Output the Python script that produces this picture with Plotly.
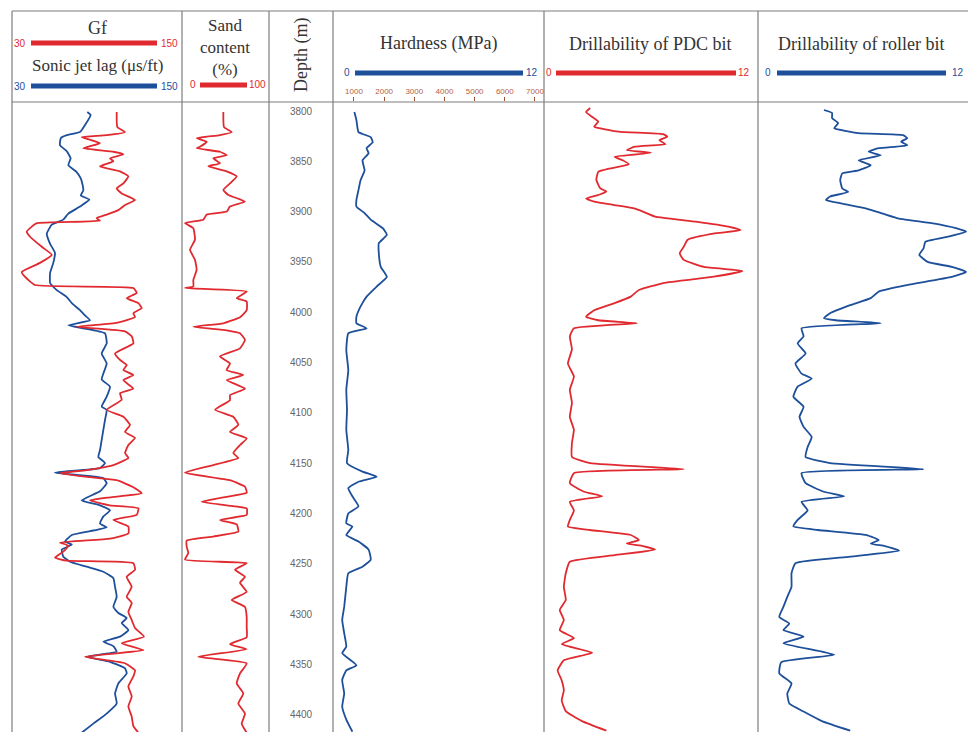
import plotly.graph_objects as go

# ---------------- data (depth in m, values per track) ----------------
gf_depth = [3800, 3815, 3820, 3823, 3825, 3827, 3831, 3836, 3839.5, 3842, 3846, 3849, 3854, 3859, 3864, 3871, 3876, 3881,
            3887.5, 3892.5, 3897.5, 3902, 3905.5, 3908, 3910.5, 3914, 3919, 3924, 3934, 3942, 3950, 3959, 3964, 3972,
            3975, 3980, 3985, 3990, 3995, 4000, 4004, 4009.5, 4013.5, 4018, 4023, 4030, 4040, 4046.5, 4051.5, 4056.5,
            4061.5, 4066.5, 4075, 4079.5, 4086, 4096, 4103, 4111, 4118, 4124, 4131, 4139, 4144, 4151, 4156, 4159, 4163,
            4166, 4173, 4179, 4183, 4186, 4191, 4194, 4200.5, 4205.5, 4212, 4219, 4224, 4228, 4231, 4237, 4243, 4246,
            4248.5, 4255, 4262, 4272, 4282, 4288, 4297, 4305, 4313, 4321.5, 4328, 4335, 4341.5, 4348, 4355, 4361, 4371,
            4381, 4391, 4401, 4410.5, 4417]
gf_value = [106.9, 107.4, 113.4, 99.1, 79.6, 84.8, 93.9, 80.9, 104.3, 112.1, 101.7, 104.3, 93.9, 109.5, 116, 112.1, 106.9, 110.8,
            121.2, 113.4, 108.2, 99.1, 91.3, 93.9, 44.6, 40.7, 36.8, 39.4, 48.5, 56.3, 47.1, 32.9, 35.5, 43.3,
            119.9, 122.5, 114.7, 123.8, 126.4, 119.9, 121.2, 106.9, 75.7, 113.4, 118.6, 119.9, 105.6, 109.5, 114.7, 112.1,
            119.9, 112.1, 119.9, 109.5, 110.8, 99.1, 112.1, 117.3, 113.4, 121.2, 116, 113.4, 116, 104.3, 83.5, 62.7, 86.1,
            106.9, 119.9, 126.4, 101.7, 86.1, 101.7, 123.8, 122.5, 104.3, 116, 116, 101.7, 62.7, 69.2, 65.3, 58.8, 68,
            119.9, 121.2, 114.7, 118.6, 114.7, 118.6, 116, 118.6, 121.2, 128.2, 110.8, 127.7, 82.2, 113.4, 121.2, 119.9, 116,
            118.6, 116, 118.6, 119.9, 123.8]

sonic_depth = [3800, 3803, 3813, 3820, 3823, 3826, 3833, 3839, 3846, 3853, 3859, 3866, 3873, 3878, 3883, 3887, 3894, 3901,
               3907, 3912, 3921, 3931, 3940, 3950, 3960, 3970, 3977, 3984, 3990, 3997, 4002, 4007, 4012, 4015, 4020, 4030,
               4040, 4050, 4060, 4066, 4073, 4083, 4093, 4096, 4106, 4116, 4126, 4136, 4143, 4149, 4154, 4158.5, 4164,
               4169, 4177, 4186, 4191, 4196, 4202, 4209, 4213, 4216, 4220.5, 4227, 4230, 4235, 4242, 4247, 4252, 4257,
               4263.5, 4272, 4282, 4292, 4298, 4303, 4308, 4315, 4321.5, 4326.5, 4331, 4336.5, 4341.5, 4346.5, 4353,
               4358, 4368, 4378, 4388, 4398, 4408, 4417]
sonic_value = [84.0, 86.6, 82.2, 78.3, 68, 63.3, 62.7, 68, 71, 69.2, 75.2, 78.9, 80.4, 80.9, 78.9, 85.6, 78.3, 69.2,
               65.3, 56.3, 52.4, 55, 58.8, 57.5, 55, 55, 60.2, 68, 71.9, 78.3, 82, 86.1, 69.2, 80.9, 97.8, 99.1,
               95.2, 99.1, 96.5, 95.2, 101.7, 99.1, 95.2, 99.1, 97.8, 96.5, 95.2, 93.9, 92.6, 97.8, 93.9, 58.8, 96.5,
               99.1, 93.9, 79.6, 93.9, 101.7, 96.5, 93.9, 99.1, 88.7, 71.9, 66.6, 71.9, 64.1, 65.3, 70.5, 83.5, 96.5,
               104.3, 105.6, 106.9, 104.3, 108.2, 114.7, 110.8, 116, 109.5, 96.5, 104.3, 106.9, 83.5, 101.7, 113.4,
               114.7, 108.2, 105.6, 106.9, 99.1, 88.7, 79.6]

sand_depth = [3800, 3815, 3820, 3823, 3826, 3829.5, 3834.5, 3836, 3839.5, 3843, 3846, 3851, 3854, 3859, 3864, 3871, 3877.5,
              3882.5, 3889, 3894, 3899, 3902, 3907, 3910.5, 3915.5, 3927, 3937, 3947, 3957, 3967, 3973.5, 3975, 3978.5,
              3985, 3988.5, 3997, 4004, 4010, 4013.5, 4017, 4020, 4026.5, 4035, 4043, 4050, 4056.5, 4061.5, 4066.5, 4075,
              4081.5, 4086.5, 4096, 4103, 4111, 4118, 4124.5, 4131, 4139, 4144, 4151, 4158.5, 4166, 4172.5, 4178.5,
              4182.5, 4187.5, 4191, 4194, 4200.5, 4205.5, 4210, 4217, 4222, 4226, 4232, 4238.5, 4245, 4248.5, 4255, 4262,
              4268, 4277, 4285, 4292, 4302, 4312, 4322, 4329, 4334, 4341.5, 4348, 4358, 4368, 4378, 4388, 4398, 4408, 4417]
sand_value = [59, 60, 71.8, 53.8, 18, 33.4, 23, 18, 53.8, 64.1, 43.6, 53.8, 35.9, 64.1, 79.5, 69.2, 59,
              66.7, 92.3, 69.2, 64.1, 33.4, 28.2, 0, 12.8, 15.4, 7.7, 15.4, 17.9, 12.8, 12.8, 0, 94.9,
              79.5, 94.9, 94.9, 84.6, 59, 12.8, 64.1, 84.6, 92.3, 84.6, 53.8, 69.2, 64.1, 89.7, 64.1, 92.3,
              69.2, 69.2, 46.2, 74.3, 82, 69.2, 94.9, 84.6, 74.3, 82, 43.6, 0, 69.2, 92.3, 94.9,
              64.1, 25.6, 64.1, 94.9, 94.9, 53.8, 79.5, 82, 43.6, 2.6, 2.6, 5.1, 0, 94.9, 76.9, 92.3,
              84.6, 94.9, 71.8, 92.3, 94.9, 94.9, 94.9, 69.2, 94.9, 20.5, 94.9, 84.6, 79.5, 89.7, 82, 92.3, 87.2, 94.9]

hard_depth = [3800, 3808, 3820, 3825, 3830, 3836, 3841, 3848, 3858, 3868, 3877.5, 3887.5, 3894, 3900.5, 3907, 3915.5, 3922,
              3930.5, 3940.5, 3954, 3964, 3973.5, 3983.5, 3993.5, 4003.5, 4010, 4015, 4020, 4036.5, 4056.5, 4076, 4096,
              4116, 4136, 4149, 4157.5, 4162.5, 4167.5, 4174, 4182, 4192, 4199, 4209, 4212, 4220.5, 4227, 4235, 4245,
              4252, 4258.5, 4272, 4292, 4305, 4318, 4331.5, 4338, 4350, 4355, 4364.5, 4378, 4391, 4404, 4416]
hard_value = [1014, 1081, 1150, 1555, 1621, 1419, 1485, 1283, 1352, 1216, 1150, 1081, 1081, 1352, 1555, 1956, 2091,
              1823, 1823, 1889, 2091, 1753, 1419, 1216, 1081, 1081, 1419, 812, 746, 812, 746, 769,
              746, 812, 769, 1283, 1753, 1150, 812, 948, 1150, 812, 746, 948, 746, 1150, 1485, 1555,
              1283, 812, 746, 676, 610, 676, 746, 610, 1081, 746, 610, 676, 610, 746, 948]

pdc_depth = [3796, 3800, 3805, 3809.5, 3814.5, 3819.5, 3822, 3824.5, 3828, 3832, 3834.5, 3838, 3840.5, 3844.5, 3848, 3852,
             3856, 3859.5, 3867.5, 3876, 3879, 3882.5, 3886, 3889, 3892.5, 3896, 3899, 3904, 3909, 3914, 3917.5, 3920.5,
             3927, 3934, 3940.5, 3947, 3954, 3958, 3964, 3970, 3977, 3983.5, 3990, 3997, 4003.5, 4007, 4010, 4015, 4023,
             4036, 4050, 4063, 4076, 4089, 4103, 4116, 4129, 4143, 4149, 4155, 4159, 4169, 4177.5, 4182, 4187.5, 4196,
             4205.5, 4212, 4215.5, 4220.5, 4225.5, 4229, 4231.5, 4235, 4240.5, 4247, 4258.5, 4272, 4285, 4295, 4305,
             4315, 4323, 4329, 4337.5, 4345, 4355, 4365, 4375, 4385, 4395.5, 4405.5, 4415]
pdc_value = [2.47, 2.22, 2.6, 2.97, 2.72, 4.22, 6.97, 7.22, 6.73, 7.1, 5.22, 4.72, 6.22, 3.97, 4.47, 4.85,
             3.72, 2.97, 2.85, 3.1, 3.47, 2.97, 2.22, 2.72, 3.97, 5.22, 5.72, 6.47, 8.98, 10.98, 11.73, 10.23,
             8.47, 8.23, 7.98, 8.23, 9.48, 11.85, 9.98, 6.97, 5.47, 4.97, 3.97, 2.72, 2.22, 2.97, 5.35, 1.47, 1.22,
             1.35, 1.1, 1.47, 1.22, 1.35, 1.22, 1.47, 1.35, 1.35, 2.47, 8.23, 1.47, 1.22, 2.1, 3.22, 1.22, 1.47,
             1.22, 1.1, 2.47, 4.97, 5.47, 4.72, 5.72, 6.47, 3.97, 1.22, 0.97, 0.85, 0.97, 0.6, 0.85,
             0.6, 1.47, 0.72, 2.6, 0.85, 0.47, 0.72, 0.85, 0.72, 0.97, 1.97, 3.47]

roller_depth = [3798, 3801, 3806, 3811, 3816, 3821, 3823, 3826, 3829.5, 3833, 3836, 3839.5, 3843, 3848, 3853, 3858, 3861,
                3867.5, 3876, 3879.5, 3884, 3887.5, 3891, 3896, 3901, 3906, 3910.5, 3915.5, 3919, 3924, 3929, 3935.5,
                3942, 3949, 3954, 3959, 3964, 3972, 3978.5, 3985, 3992, 4000, 4005, 4007, 4010, 4015, 4023, 4030, 4040,
                4050, 4060, 4065, 4073, 4083, 4093, 4103, 4113, 4123, 4133, 4143, 4149, 4155, 4159, 4169, 4177.5, 4182,
                4187.5, 4196, 4205.5, 4212, 4215.5, 4220.5, 4225.5, 4229, 4231.5, 4236, 4242, 4248.5, 4258.5, 4272, 4282,
                4292, 4302, 4308.5, 4315, 4321.5, 4328, 4339.5, 4347, 4358, 4368, 4378, 4388, 4396, 4405.5, 4415]
roller_value = [3.44, 3.96, 3.96, 4.35, 4.1, 5.65, 8.5, 8.76, 8.37, 8.76, 6.94, 6.3, 7.07, 5.65, 6.43, 5.65, 4.61,
                4.48, 4.61, 5.0, 3.83, 3.57, 4.61, 6.16, 7.2, 8.24, 10.31, 11.87, 12.52, 11.35, 9.92, 9.8,
                9.53, 10.06, 11.61, 12.52, 11.61, 8.76, 6.94, 6.43, 5.12, 3.83, 3.44, 4.2, 7.07, 2.01, 2.14, 1.76, 2.27,
                1.62, 2.01, 2.66, 1.76, 1.49, 2.14, 1.88, 2.14, 2.66, 2.4, 2.27, 3.83, 9.8, 2.01, 2.27, 3.44, 4.74,
                2.01, 2.4, 1.76, 1.49, 3.05, 6.16, 6.94, 6.43, 7.33, 8.24, 5.12, 1.62, 1.37, 1.37, 1.1,
                0.85, 0.59, 1.23, 0.85, 2.14, 0.85, 4.09, 0.71, 0.59, 1.37, 1.1, 1.23, 2.14, 3.31, 5.12]

depth_ticks = [3800, 3850, 3900, 3950, 4000, 4050, 4100, 4150, 4200, 4250, 4300, 4350, 4400]
hard_ticks = [1000, 2000, 3000, 4000, 5000, 6000, 7000]

# ---------------- styling ----------------
W, H = 968, 732
RED = "#e02a2f"
BLUE = "#1d4f9a"
GRID = "#7d7d7d"
TXT = "#333333"
SERIF = "Liberation Serif, Times New Roman, serif"
SANS = "Liberation Sans, Arial, sans-serif"

def px(x):
    return x / W

def py(y):
    return 1 - y / H

cols = [12, 182, 269, 333, 544, 758, 968]
top_y, head_y = 11, 102

fig = go.Figure()
lw = 1.8
line_kw = dict(width=lw, shape="spline", smoothing=0.4)
fig.add_trace(go.Scatter(x=sonic_value, y=sonic_depth, mode="lines", line=dict(color=BLUE, **line_kw),
                         xaxis="x", yaxis="y", name="Sonic jet lag"))
fig.add_trace(go.Scatter(x=gf_value, y=gf_depth, mode="lines", line=dict(color=RED, **line_kw),
                         xaxis="x", yaxis="y", name="Gf"))
fig.add_trace(go.Scatter(x=sand_value, y=sand_depth, mode="lines", line=dict(color=RED, **line_kw),
                         xaxis="x2", yaxis="y", name="Sand content"))
fig.add_trace(go.Scatter(x=[0.5] * len(depth_ticks), y=depth_ticks, mode="text",
                         text=[str(d) for d in depth_ticks],
                         textfont=dict(family=SANS, size=10, color="#666666"),
                         xaxis="x3", yaxis="y", name="Depth"))
fig.add_trace(go.Scatter(x=hard_value, y=hard_depth, mode="lines", line=dict(color=BLUE, **line_kw),
                         xaxis="x4", yaxis="y", name="Hardness"))
fig.add_trace(go.Scatter(x=pdc_value, y=pdc_depth, mode="lines", line=dict(color=RED, **line_kw),
                         xaxis="x5", yaxis="y", name="PDC"))
fig.add_trace(go.Scatter(x=roller_value, y=roller_depth, mode="lines", line=dict(color=BLUE, **line_kw),
                         xaxis="x6", yaxis="y", name="Roller"))

hidden = dict(visible=False, showgrid=False, zeroline=False, anchor="y")
layout = dict(
    width=W, height=H, margin=dict(l=0, r=0, t=0, b=0),
    paper_bgcolor="white", plot_bgcolor="white", showlegend=False,
    yaxis=dict(domain=[0, py(head_y)], range=[3800 + (H - 112) / 1.006, 3800 - (112 - head_y) / 1.006],
               visible=False, showgrid=False, zeroline=False),
    xaxis=dict(domain=[px(12), px(182)], range=[25.3, 157.8], **hidden),
    xaxis2=dict(domain=[px(182), px(269)], range=[-4.6, 129.2], **hidden),
    xaxis3=dict(domain=[px(269), px(333)], range=[0, 1], **hidden),
    xaxis4=dict(domain=[px(333), px(544)], range=[305, 7299], anchor="y", side="top",
                tickvals=hard_ticks, ticktext=[str(t) for t in hard_ticks],
                ticks="outside", ticklen=4, tickcolor="#a0522d", tickwidth=1,
                tickfont=dict(family=SANS, size=8, color="#b5603f"),
                showgrid=False, zeroline=False, showline=False),
    xaxis5=dict(domain=[px(544), px(758)], range=[-0.37, 12.8], **hidden),
    xaxis6=dict(domain=[px(758), px(968)], range=[-0.77, 12.64], **hidden),
)
fig.update_layout(**layout)

shapes = []
line_style = dict(color=GRID, width=1.2)
shapes.append(dict(type="line", xref="paper", yref="paper", x0=px(12), x1=1, y0=py(top_y), y1=py(top_y), line=line_style))
shapes.append(dict(type="line", xref="paper", yref="paper", x0=px(12), x1=1, y0=py(head_y), y1=py(head_y), line=line_style))
for c in cols[:-1]:
    shapes.append(dict(type="line", xref="paper", yref="paper", x0=px(c), x1=px(c), y0=0, y1=py(top_y), line=line_style))

def bar(x0, x1, y, color):
    shapes.append(dict(type="rect", xref="paper", yref="paper", x0=px(x0), x1=px(x1),
                       y0=py(y + 2.5), y1=py(y - 2.5), fillcolor=color, line=dict(width=0)))

bar(31, 157, 43, RED)
bar(31, 157, 86, BLUE)
bar(200, 247, 85, RED)
bar(355, 523, 73, BLUE)
bar(556, 736, 73, RED)
bar(777, 946, 73, BLUE)
fig.update_layout(shapes=shapes)

ann = []
def text(x, y, s, size=16, color=TXT, family=SERIF, angle=0):
    ann.append(dict(x=px(x), y=py(y), xref="paper", yref="paper", text=s, showarrow=False,
                    xanchor="center", yanchor="middle", textangle=angle,
                    font=dict(family=family, size=size, color=color)))

text(97, 28, "Gf", size=18)
text(97, 66, "Sonic jet lag (μs/ft)", size=17)
text(225, 47, "Sand<br>content<br>(%)", size=17)
text(301, 55, "Depth (m)", size=18, angle=-90)
text(438, 44, "Hardness (MPa)", size=18)
text(650, 44, "Drillability of PDC bit", size=18)
text(861, 44, "Drillability of roller bit", size=18)

text(20, 43, "30", size=10, color=RED, family=SANS)
text(169, 43, "150", size=10, color=RED, family=SANS)
text(20, 86, "30", size=10, color=BLUE, family=SANS)
text(169, 86, "150", size=10, color=BLUE, family=SANS)
text(193, 85, "0", size=10, color=RED, family=SANS)
text(257, 85, "100", size=10, color=RED, family=SANS)
text(347, 73, "0", size=10, color=BLUE, family=SANS)
text(532, 73, "12", size=10, color=BLUE, family=SANS)
text(549, 73, "0", size=10, color=RED, family=SANS)
text(744, 73, "12", size=10, color=RED, family=SANS)
text(768, 73, "0", size=10, color=BLUE, family=SANS)
text(958, 73, "12", size=10, color=BLUE, family=SANS)
fig.update_layout(annotations=ann)

fig.write_html("out.html", config={"displayModeBar": False},
               post_script="document.body.style.margin='0';document.body.style.overflow='hidden';")
